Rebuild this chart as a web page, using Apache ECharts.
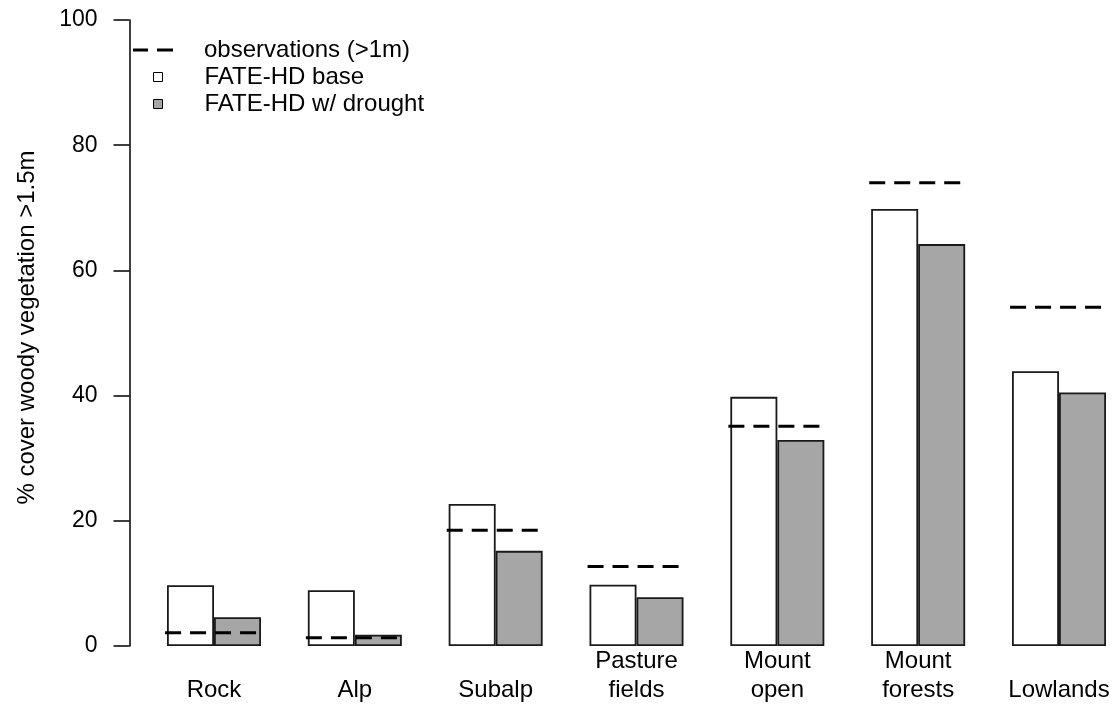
<!DOCTYPE html>
<html>
<head>
<meta charset="utf-8">
<script src="https://cdn.jsdelivr.net/npm/echarts@6/dist/echarts.min.js"></script>
<style>html,body{margin:0;padding:0;background:#fff}#c{width:1114px;height:706px}</style>
</head>
<body>
<div id="c"></div>
<script>
const categories = ['Rock', 'Alp', 'Subalp', 'Pasture\nfields', 'Mount\nopen', 'Mount\nforests', 'Lowlands'];
const baseValues = [9.7, 8.9, 22.7, 9.8, 39.8, 69.8, 43.9];
const droughtValues = [4.6, 1.8, 15.2, 7.8, 32.9, 64.2, 40.5];
const obsValues = [2.1, 1.3, 18.5, 12.7, 35.1, 74.0, 54.1];
const yTicks = [0, 20, 40, 60, 80, 100];
const seriesNames = ['observations (>1m)', 'FATE-HD base', 'FATE-HD w/ drought'];

const FONT = "'Liberation Sans', Arial, sans-serif";
const chart = echarts.init(document.getElementById('c'), null, {renderer: 'canvas'});
const option = {
  animation: false,
  backgroundColor: '#fff',
  textStyle: {fontFamily: FONT},
  grid: {left: 214, right: 55, top: 20, bottom: 60, containLabel: false},
  legend: [
    {
      left: 133, top: 38, padding: 0, orient: 'vertical',
      itemWidth: 40, itemHeight: 3,
      textStyle: {fontSize: 24, color: '#000', fontFamily: FONT, padding: [0, 0, 0, 26]},
      data: [{name: seriesNames[0], icon: 'path://M0,0H15V3H0Z M24,0H40V3H24Z', itemStyle: {color: '#000', borderWidth: 0}}]
    },
    {
      left: 153, top: 65, padding: 0, orient: 'vertical', itemGap: 3,
      itemWidth: 9, itemHeight: 9,
      textStyle: {fontSize: 24, color: '#000', fontFamily: FONT, padding: [0, 0, 0, 37]},
      data: [
        {name: seriesNames[1], icon: 'rect', itemStyle: {color: '#fff', borderColor: '#000', borderWidth: 1}},
        {name: seriesNames[2], icon: 'rect', itemStyle: {color: '#a6a6a6', borderColor: '#000', borderWidth: 1}}
      ]
    }
  ],
  xAxis: {
    type: 'category',
    data: categories,
    boundaryGap: false,
    axisLine: {show: false},
    axisTick: {show: false},
    axisLabel: {
      fontSize: 24, color: '#000', fontFamily: FONT, lineHeight: 29, margin: 1, interval: 0,
      formatter: v => (v.indexOf('\n') < 0 ? '\n' + v : v)
    },
    splitLine: {show: false}
  },
  yAxis: {
    type: 'value', min: 0, max: 100, interval: 20,
    offset: 84.5,
    name: '% cover woody vegetation >1.5m',
    nameLocation: 'middle', nameRotate: 90, nameGap: 90,
    nameTextStyle: {fontSize: 24, color: '#000', fontFamily: FONT, padding: [0, 0, 0, 11]},
    axisLine: {show: true, lineStyle: {color: '#000', width: 1.5}},
    axisTick: {show: true, length: 16, lineStyle: {color: '#000', width: 1.5}},
    axisLabel: {fontSize: 23, color: '#000', fontFamily: FONT, margin: 32,
      formatter: v => (yTicks.indexOf(v) >= 0 ? String(v) : '')},
    splitLine: {show: false}
  },
  series: [
    {
      name: seriesNames[1], type: 'bar', data: baseValues, barWidth: 47, barGap: '0%', clip: false,
      itemStyle: {color: '#fff', borderColor: '#1a1a1a', borderWidth: 1.8}, z: 2
    },
    {
      name: seriesNames[2], type: 'bar', data: droughtValues, barWidth: 47, barGap: '0%', clip: false,
      itemStyle: {color: '#a6a6a6', borderColor: '#1a1a1a', borderWidth: 1.8}, z: 2
    },
    {
      name: seriesNames[0], type: 'custom', z: 5, clip: false,
      itemStyle: {color: '#000'},
      data: obsValues.map((v, i) => [i, v]),
      encode: {x: 0, y: 1},
      renderItem: function (params, api) {
        const c = api.coord([api.value(0), api.value(1)]);
        const band = api.size([1, 0])[0];
        const half = band / 3;
        return {
          type: 'line',
          shape: {x1: c[0] - half - 2, y1: c[1], x2: c[0] + half - 4, y2: c[1]},
          style: {stroke: '#000', lineWidth: 3, lineDash: [16, 9], fill: null}
        };
      }
    }
  ]
};
chart.setOption(option);
</script>
</body>
</html>
